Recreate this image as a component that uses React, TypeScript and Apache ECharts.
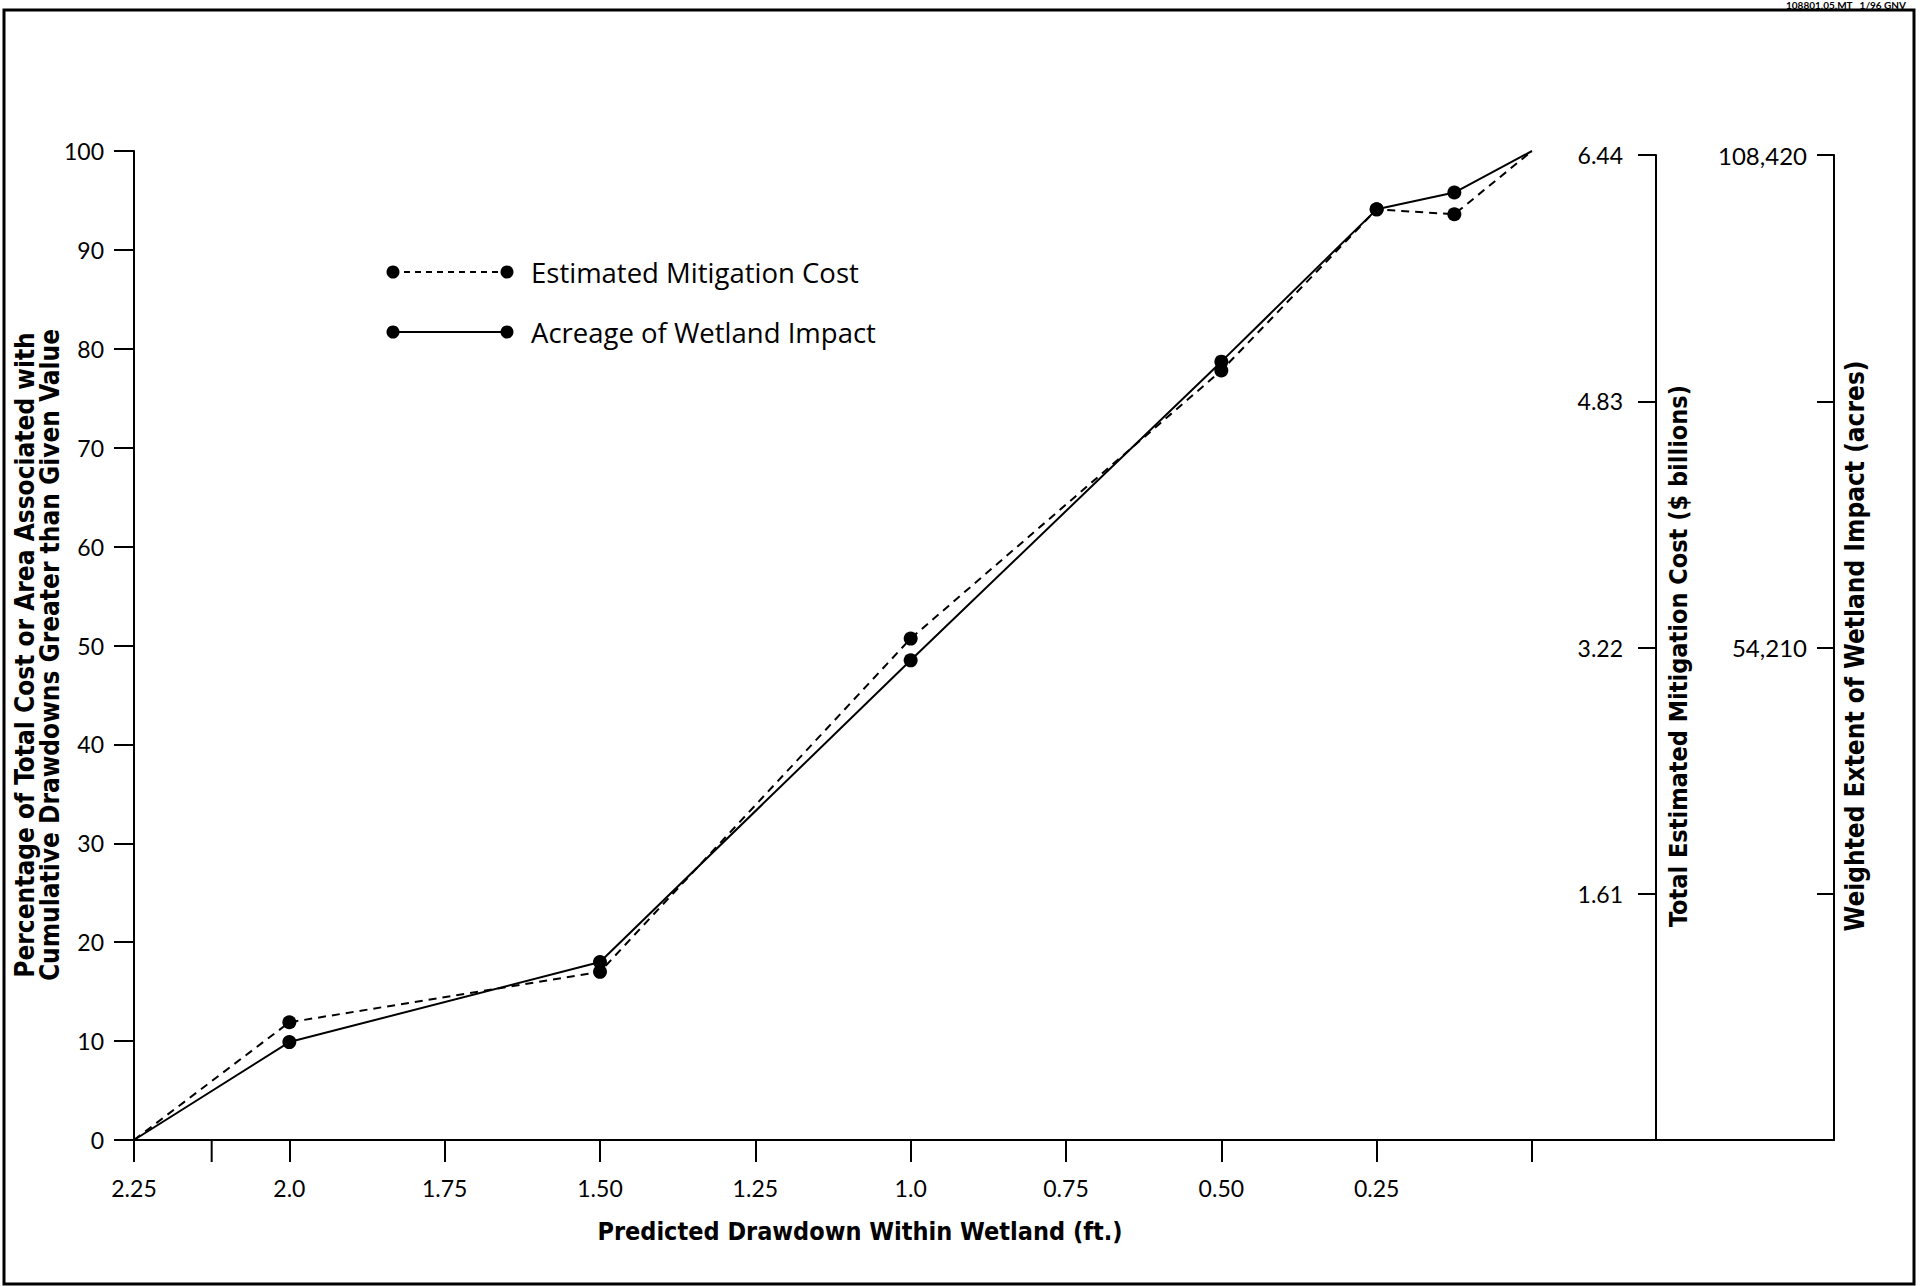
import React, { useEffect, useRef } from "react";
import * as echarts from "echarts";

// ---- Data ----
const drawdown = [2.25, 2.0, 1.5, 1.0, 0.5, 0.25, 0.125, 0];
const costPct = [0, 11.9, 17.0, 50.7, 77.8, 94.1, 93.6, 100];
const acreagePct = [0, 9.9, 18.0, 48.5, 78.7, 94.1, 95.8, 100];
const hasMarker = [false, true, true, true, true, true, true, false];

const xTickLabels: Record<string, string> = {
  "2.25": "2.25",
  "2": "2.0",
  "1.75": "1.75",
  "1.5": "1.50",
  "1.25": "1.25",
  "1": "1.0",
  "0.75": "0.75",
  "0.5": "0.50",
  "0.25": "0.25",
  "0": "",
};
const extraXTicks = [2.125];

const costMax = 6.44;
const costInterval = 1.61;
const areaMax = 108420;
const areaInterval = 27105;
const areaLabeled = [54210, 108420];

const seriesNames = ["Estimated Mitigation Cost", "Acreage of Wetland Impact"];
const xTitle = "Predicted Drawdown Within Wetland (ft.)";
const yTitle =
  "Percentage of Total Cost or Area Associated with\nCumulative Drawdowns Greater than Given Value";
const costTitle = "Total Estimated Mitigation Cost ($ billions)";
const areaTitle = "Weighted Extent of Wetland Impact (acres)";
const headerText = "108801.05.MT   1/96 GNV";

const TICK_FONT = "Lato, 'Noto Sans', sans-serif";
const LEGEND_FONT = "'Open Sans', Lato, sans-serif";
const TITLE_FONT = "'DejaVu Sans Condensed', 'Liberation Sans Narrow', 'DejaVu Sans', sans-serif";

export default function App() {
  const ref = useRef<HTMLDivElement>(null);

  useEffect(() => {
    if (!ref.current) return;
    const chart = echarts.init(ref.current, null, { renderer: "svg" });

    const mkData = (vals: number[]) =>
      drawdown.map((d, i) => ({
        value: [d, vals[i]],
        symbol: hasMarker[i] ? "circle" : "none",
      }));

    const legendRow = (y: number, dashed: boolean, label: string) => [
      {
        type: "line",
        shape: { x1: 393, y1: y, x2: 507, y2: y },
        style: { stroke: "#000", lineWidth: 2, lineDash: dashed ? [6, 5] : null },
      },
      { type: "circle", shape: { cx: 393, cy: y, r: 6.5 }, style: { fill: "#000" } },
      { type: "circle", shape: { cx: 507, cy: y, r: 6.5 }, style: { fill: "#000" } },
      {
        type: "text",
        x: 531,
        y: y,
        style: {
          text: label,
          fill: "#000",
          font: `27.5px ${LEGEND_FONT}`,
          verticalAlign: "middle",
          align: "left",
        },
      },
    ];

    const option: any = {
      animation: false,
      backgroundColor: "#fff",
      grid: [
        { left: 134, top: 151, width: 1398, height: 989 },
        { left: 1532, top: 155, width: 302, height: 985 },
      ],
      xAxis: [
        {
          gridIndex: 0,
          type: "value",
          min: 0,
          max: 2.25,
          interval: 0.25,
          inverse: true,
          axisLine: { onZero: false, lineStyle: { color: "#000", width: 2 } },
          axisTick: { length: 22, lineStyle: { color: "#000", width: 2 } },
          axisLabel: {
            margin: 36,
            color: "#000",
            fontSize: 23,
            fontFamily: TICK_FONT,
            formatter: (v: number) => xTickLabels[String(v)] ?? "",
          },
          splitLine: { show: false },
        },
        {
          gridIndex: 1,
          type: "value",
          min: 0,
          max: 1,
          axisLine: { onZero: false, lineStyle: { color: "#000", width: 2 } },
          axisTick: { show: false },
          axisLabel: { show: false },
          splitLine: { show: false },
        },
      ],
      yAxis: [
        {
          gridIndex: 0,
          type: "value",
          position: "left",
          min: 0,
          max: 100,
          interval: 10,
          axisLine: { show: true, onZero: false, lineStyle: { color: "#000", width: 2 } },
          axisTick: { show: true, length: 20, lineStyle: { color: "#000", width: 2 } },
          axisLabel: { margin: 30, color: "#000", fontSize: 23, fontFamily: TICK_FONT },
          splitLine: { show: false },
        },
        {
          gridIndex: 1,
          type: "value",
          position: "left",
          offset: -124,
          min: 0,
          max: costMax,
          interval: costInterval,
          axisLine: { show: true, onZero: false, lineStyle: { color: "#000", width: 2 } },
          axisTick: { show: true, length: 18, lineStyle: { color: "#000", width: 2 } },
          axisLabel: {
            margin: 33,
            color: "#000",
            fontSize: 23,
            fontFamily: TICK_FONT,
            formatter: (v: number) => (v === 0 ? "" : v.toFixed(2)),
          },
          splitLine: { show: false },
        },
        {
          gridIndex: 1,
          type: "value",
          position: "right",
          min: 0,
          max: areaMax,
          interval: areaInterval,
          axisLine: { show: true, onZero: false, lineStyle: { color: "#000", width: 2 } },
          axisTick: { show: true, inside: true, length: 17, lineStyle: { color: "#000", width: 2 } },
          axisLabel: {
            inside: true,
            margin: 27,
            color: "#000",
            fontSize: 24,
            fontFamily: TICK_FONT,
            formatter: (v: number) =>
              areaLabeled.some((a) => Math.abs(a - v) < 1) ? Math.round(v).toLocaleString("en-US") : "",
          },
          splitLine: { show: false },
        },
      ],
      series: [
        {
          name: seriesNames[0],
          type: "line",
          xAxisIndex: 0,
          yAxisIndex: 0,
          data: mkData(costPct),
          symbolSize: 14,
          itemStyle: { color: "#000" },
          lineStyle: { color: "#000", width: 2, type: [8, 6] },
          z: 3,
        },
        {
          name: seriesNames[1],
          type: "line",
          xAxisIndex: 0,
          yAxisIndex: 0,
          data: mkData(acreagePct),
          symbolSize: 14,
          itemStyle: { color: "#000" },
          lineStyle: { color: "#000", width: 2, type: "solid" },
          z: 4,
        },
        {
          type: "custom",
          xAxisIndex: 0,
          yAxisIndex: 0,
          clip: false,
          silent: true,
          data: extraXTicks.map((v) => [v, 0]),
          renderItem: (_p: any, api: any) => {
            const p = api.coord([api.value(0), api.value(1)]);
            return {
              type: "line",
              shape: { x1: p[0], y1: p[1], x2: p[0], y2: p[1] + 22 },
              style: { stroke: "#000", lineWidth: 2 },
            };
          },
        },
      ],
      graphic: [
        {
          type: "rect",
          shape: { x: 4, y: 10, width: 1910, height: 1274 },
          style: { fill: "none", stroke: "#000", lineWidth: 3 },
          silent: true,
        },
        {
          type: "text",
          x: 1906,
          y: 0,
          style: {
            text: headerText,
            fill: "#000",
            font: `bold 10px ${TICK_FONT}`,
            align: "right",
            verticalAlign: "top",
          },
        },
        ...legendRow(272, true, seriesNames[0]),
        ...legendRow(332, false, seriesNames[1]),
        {
          type: "text",
          x: 860,
          y: 1231,
          style: {
            text: xTitle,
            fill: "#000",
            font: `bold 25px ${TITLE_FONT}`,
            align: "center",
            verticalAlign: "middle",
          },
        },
        {
          type: "text",
          x: 37,
          y: 655,
          rotation: Math.PI / 2,
          style: {
            text: yTitle,
            fill: "#000",
            font: `bold 26px ${TITLE_FONT}`,
            lineHeight: 25,
            align: "center",
            verticalAlign: "middle",
          },
        },
        {
          type: "text",
          x: 1678,
          y: 656,
          rotation: Math.PI / 2,
          style: {
            text: costTitle,
            fill: "#000",
            font: `bold 25px ${TITLE_FONT}`,
            align: "center",
            verticalAlign: "middle",
          },
        },
        {
          type: "text",
          x: 1855,
          y: 646,
          rotation: Math.PI / 2,
          style: {
            text: areaTitle,
            fill: "#000",
            font: `bold 26px ${TITLE_FONT}`,
            align: "center",
            verticalAlign: "middle",
          },
        },
      ],
    };

    chart.setOption(option);
    return () => chart.dispose();
  }, []);

  return (
    <div
      ref={ref}
      style={{ position: "fixed", left: 0, top: 0, width: 1928, height: 1286, background: "#fff" }}
    />
  );
}
